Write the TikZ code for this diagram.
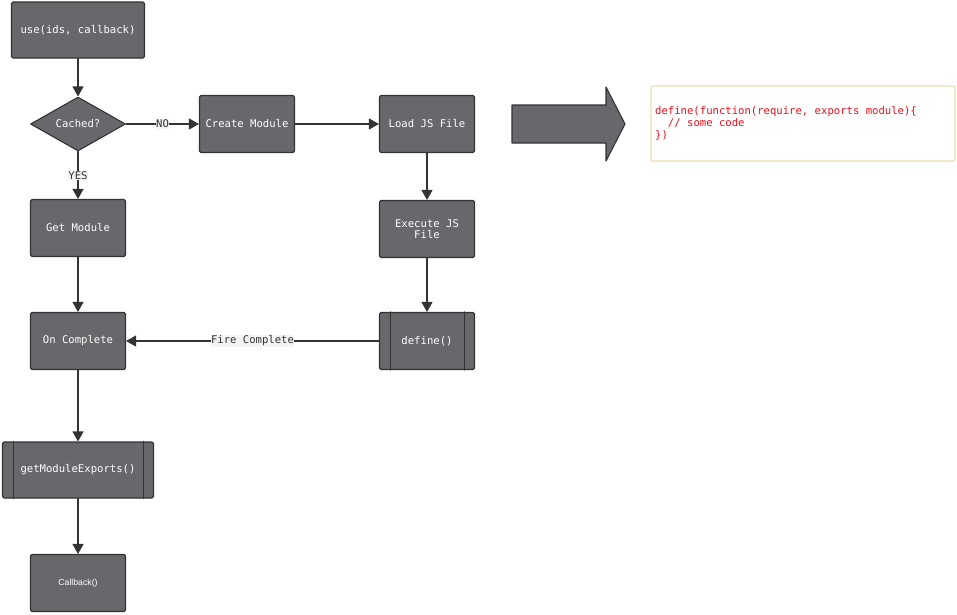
\documentclass[tikz,border=0pt]{standalone}
\usepackage{fontspec}
\setmonofont{DejaVu Sans Mono}
\setsansfont{Liberation Sans}
\usetikzlibrary{arrows.meta,shapes.geometric}

\definecolor{boxfill}{HTML}{69666C}
\definecolor{boxline}{HTML}{333333}
\definecolor{notefill}{HTML}{FFFFFF}
\definecolor{noteline}{HTML}{EADFB4}
\definecolor{codered}{HTML}{E8101C}
\definecolor{lblfill}{HTML}{F3F3F3}

\begin{document}
\begin{tikzpicture}[x=1pt,y=-1pt,line cap=round,line join=round,
    box/.style={draw=boxline,fill=boxfill,line width=1.1pt,rounded corners=1.5pt,
      minimum width=95pt,minimum height=57pt,inner sep=0pt,align=center,
      text=white,font=\ttfamily\fontsize{10.6}{11.5}\selectfont},
    decide/.style={box,diamond,aspect=1.76,minimum width=95pt,minimum height=54pt,rounded corners=0pt},
    flow/.style={draw=boxline,line width=1.1pt,-{Triangle[length=10pt,width=11pt]}},
    lbl/.style={fill=lblfill,inner sep=0.5pt,text=boxline,font=\ttfamily\fontsize{10.6}{11.5}\selectfont}]
  \useasboundingbox (0,0) rectangle (957,614);
  % left column
  \node[box,minimum width=133pt,minimum height=56pt] (use) at (78,30) {use(ids, callback)};
  \node[decide] (cached) at (78,124) {Cached?};
  \node[box] (getmod) at (78,228) {Get Module};
  \node[box] (oncomp) at (78,341) {On Complete};
  \node[box,minimum width=151pt,minimum height=56pt] (exports) at (78,470) {getModuleExports()};
  \node[box,font=\sffamily\fontsize{8.7}{10}\selectfont] (callback) at (78,583) {Callback()};
  % right column
  \node[box] (create) at (247,124) {Create Module};
  \node[box] (load) at (427,124) {Load JS File};
  \node[box] (exec) at (427,229) {Execute JS\\File};
  \node[box] (define) at (427,341) {define()};
  % side bars
  \draw[boxline,line width=1pt] ([xshift=12pt]define.north west) -- ([xshift=12pt]define.south west)
    ([xshift=-11pt]define.north east) -- ([xshift=-11pt]define.south east);
  \draw[boxline,line width=1pt] ([xshift=12pt]exports.north west) -- ([xshift=12pt]exports.south west)
    ([xshift=-11pt]exports.north east) -- ([xshift=-11pt]exports.south east);
  % connectors
  \draw[flow] (use) -- (cached);
  \draw[flow] (cached) -- node[lbl] {NO} (create);
  \draw[flow] (cached) -- node[lbl] {YES} (getmod);
  \draw[flow] (create) -- (load);
  \draw[flow] (load) -- (exec);
  \draw[flow] (exec) -- (define);
  \draw[flow] (define) -- node[lbl] {Fire Complete} (oncomp);
  \draw[flow] (getmod) -- (oncomp);
  \draw[flow] (oncomp) -- (exports);
  \draw[flow] (exports) -- (callback);
  % big arrow
  \draw[boxline,fill=boxfill,line width=1.1pt]
    (512,105) -- (606,105) -- (606,87) -- (625,124) -- (606,161) -- (606,143) -- (512,143) -- cycle;
  % code note
  \node[draw=noteline,fill=notefill,line width=1.3pt,rounded corners=2pt,
    minimum width=304pt,minimum height=75pt,inner sep=0pt] (note) at (803,123.5) {};
  \node[anchor=west,align=left,inner sep=0pt,text=codered,
    font=\ttfamily\fontsize{10.6}{12}\selectfont] (code) at (655,123)
    {define(function(require, exports module)\{\\\hphantom{xx}// some code\\\})};
\end{tikzpicture}
\end{document}
